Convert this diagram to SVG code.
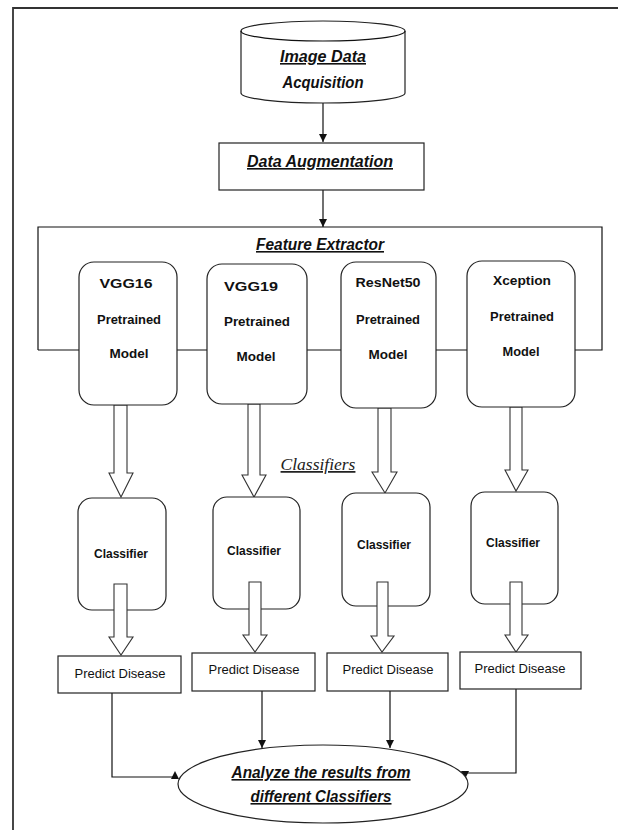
<svg xmlns="http://www.w3.org/2000/svg" width="618" height="830" viewBox="0 0 618 830">
<defs>
<style>
.ln{fill:none;stroke:#111;stroke-width:1.2}
.bx{fill:#fff;stroke:#222;stroke-width:1.2}
.ha{fill:#fff;stroke:#333;stroke-width:1.1;stroke-linejoin:miter}
.tb{font-family:"Liberation Sans",Arial,sans-serif;font-weight:bold;font-size:13.5px;fill:#111;text-anchor:middle}
.tn{font-family:"Liberation Sans",Arial,sans-serif;font-size:13px;fill:#111;text-anchor:middle}
.ti{font-family:"Liberation Sans",Arial,sans-serif;font-weight:bold;font-style:italic;font-size:16px;fill:#111;text-anchor:middle}
.ts{font-family:"Liberation Serif","Times New Roman",serif;font-style:italic;font-size:17.5px;fill:#222;text-anchor:middle}
.u{text-decoration:underline}
</style>
<marker id="ah" viewBox="0 0 10 10" refX="10" refY="5" markerWidth="7" markerHeight="7" orient="auto">
<path d="M0,0 L10,5 L0,10 z" fill="#111"/>
</marker>
</defs>
<rect width="618" height="830" fill="#fff"/>
<g id="frame">
<path d="M13,830 V8 H618" fill="none" stroke="#333" stroke-width="1.8"/>
</g>
<g id="feature-extractor">
<path class="ln" d="M38,350 V227 H602 V350 H38"/>
<text class="ti u" x="320" y="250" font-size="16.5" textLength="128" lengthAdjust="spacingAndGlyphs">Feature Extractor</text>
</g>
<g id="connectors">
<line class="ln" x1="323" y1="103" x2="323" y2="142" marker-end="url(#ah)"/>
<line class="ln" x1="323" y1="190" x2="323" y2="227" marker-end="url(#ah)"/>
<line class="ln" x1="262" y1="691" x2="262" y2="748" marker-end="url(#ah)"/>
<line class="ln" x1="390" y1="691" x2="390" y2="748" marker-end="url(#ah)"/>
<polyline class="ln" points="112,693 112,777 176,777"/>
<polygon points="171,779 179,779 175,771" fill="#111"/>
<polyline class="ln" points="516,689 516,773 467,773"/>
<polygon points="461,771 469,771 465,779" fill="#111"/>
<path class="ha" d="M114,405 H127 V473 H133 L121,497 L109,473 H114 Z"/>
<path class="ha" d="M248,404 H260 V475 H266 L254,497 L242,475 H248 Z"/>
<path class="ha" d="M378,408 H391 V472 H397 L385,493 L372,472 H378 Z"/>
<path class="ha" d="M510,407 H522 V470 H528 L516,491 L505,470 H510 Z"/>
</g>
<g id="image-data-acquisition">
<path class="bx" d="M241,31 A82,10 0 0 1 405,31 V93 A82,10 0 0 1 241,93 Z"/>
<path class="ln" d="M241,31 A82,10 0 0 0 405,31" stroke="#222"/>
<text class="ti u" x="323" y="62" textLength="86" lengthAdjust="spacingAndGlyphs">Image Data</text>
<text class="ti" x="323" y="88" textLength="81" lengthAdjust="spacingAndGlyphs">Acquisition</text>
</g>
<g id="data-augmentation">
<rect class="bx" x="219" y="143" width="205" height="47"/>
<text class="ti u" x="320" y="167" font-size="15" textLength="146" lengthAdjust="spacingAndGlyphs">Data Augmentation</text>
</g>
<g id="vgg16">
<rect class="bx" x="79" y="262" width="98" height="143" rx="15"/>
<text class="tb" x="126" y="288" textLength="53" lengthAdjust="spacingAndGlyphs">VGG16</text>
<text class="tb" x="129" y="324" textLength="64" lengthAdjust="spacingAndGlyphs">Pretrained</text>
<text class="tb" x="129" y="358" textLength="39" lengthAdjust="spacingAndGlyphs">Model</text>
</g>
<g id="vgg19">
<rect class="bx" x="207" y="264" width="100" height="140" rx="15"/>
<text class="tb" x="251" y="291" textLength="54" lengthAdjust="spacingAndGlyphs">VGG19</text>
<text class="tb" x="257" y="326" textLength="66" lengthAdjust="spacingAndGlyphs">Pretrained</text>
<text class="tb" x="256" y="361" textLength="39" lengthAdjust="spacingAndGlyphs">Model</text>
</g>
<g id="resnet50">
<rect class="bx" x="341" y="262" width="95" height="146" rx="15"/>
<text class="tb" x="388" y="287" textLength="65" lengthAdjust="spacingAndGlyphs">ResNet50</text>
<text class="tb" x="388" y="324" textLength="64" lengthAdjust="spacingAndGlyphs">Pretrained</text>
<text class="tb" x="388" y="359" textLength="39" lengthAdjust="spacingAndGlyphs">Model</text>
</g>
<g id="xception">
<rect class="bx" x="467" y="261" width="108" height="146" rx="15"/>
<text class="tb" x="522" y="285" textLength="58" lengthAdjust="spacingAndGlyphs">Xception</text>
<text class="tb" x="522" y="321" textLength="64" lengthAdjust="spacingAndGlyphs">Pretrained</text>
<text class="tb" x="521" y="356" textLength="37" lengthAdjust="spacingAndGlyphs">Model</text>
</g>
<g id="classifiers-label">
<text class="ts u" x="318" y="470">Classifiers</text>
</g>
<g id="classifier1">
<rect class="bx" x="78" y="498" width="88" height="112" rx="14"/>
<text class="tb" x="121" y="558" textLength="54" lengthAdjust="spacingAndGlyphs">Classifier</text>
</g>
<g id="classifier2">
<rect class="bx" x="213" y="497" width="87" height="112" rx="14"/>
<text class="tb" x="254" y="555" textLength="54" lengthAdjust="spacingAndGlyphs">Classifier</text>
</g>
<g id="classifier3">
<rect class="bx" x="342" y="493" width="88" height="113" rx="14"/>
<text class="tb" x="384" y="549" textLength="54" lengthAdjust="spacingAndGlyphs">Classifier</text>
</g>
<g id="classifier4">
<rect class="bx" x="471" y="492" width="87" height="112" rx="14"/>
<text class="tb" x="513" y="547" textLength="54" lengthAdjust="spacingAndGlyphs">Classifier</text>
</g>
<g id="classifier-arrows">
<path class="ha" d="M114,584 H127 V637 H133 L121,655 L109,637 H114 Z"/>
<path class="ha" d="M249,582 H261 V635 H267 L255,652 L243,635 H249 Z"/>
<path class="ha" d="M377,582 H388 V636 H394 L382,652 L371,636 H377 Z"/>
<path class="ha" d="M510,582 H522 V635 H528 L516,652 L505,635 H510 Z"/>
</g>
<g id="predict1">
<rect class="bx" x="58" y="656" width="123" height="37"/>
<text class="tn" x="120" y="678">Predict Disease</text>
</g>
<g id="predict2">
<rect class="bx" x="192" y="653" width="123" height="38"/>
<text class="tn" x="254" y="674">Predict Disease</text>
</g>
<g id="predict3">
<rect class="bx" x="327" y="653" width="121" height="38"/>
<text class="tn" x="388" y="674">Predict Disease</text>
</g>
<g id="predict4">
<rect class="bx" x="460" y="652" width="121" height="37"/>
<text class="tn" x="520" y="673">Predict Disease</text>
</g>
<g id="analyze">
<ellipse class="bx" cx="323" cy="784" rx="145" ry="39"/>
<text class="ti u" x="321" y="778" font-size="15.5" textLength="179" lengthAdjust="spacingAndGlyphs">Analyze the results from</text>
<text class="ti u" x="321" y="802" font-size="15.5" textLength="141" lengthAdjust="spacingAndGlyphs">different Classifiers</text>
</g>
</svg>
